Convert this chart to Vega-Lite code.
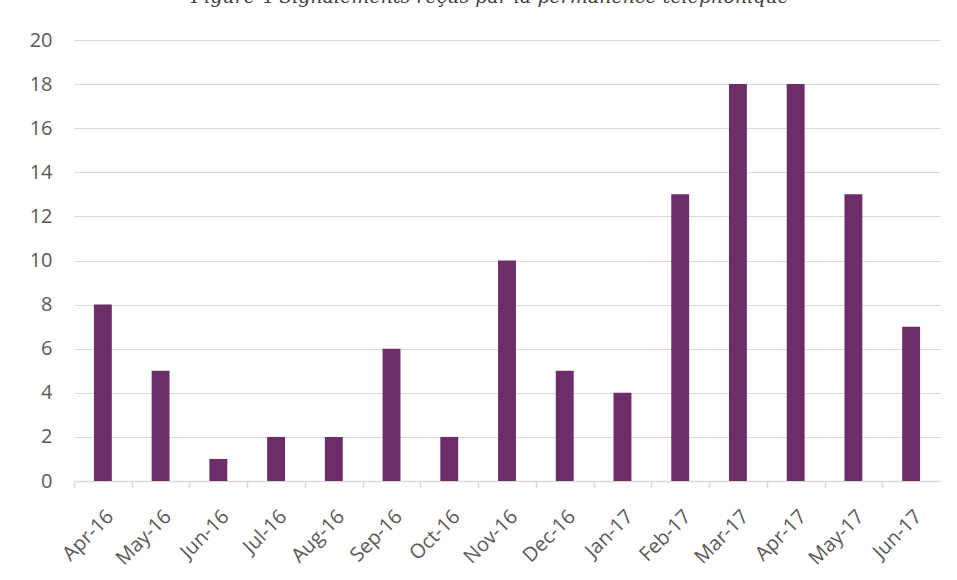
{
  "$schema": "https://vega.github.io/schema/vega-lite/v6.json",
  "autosize": {"type": "none"},
  "padding": {"left": 74, "top": 40, "right": 17, "bottom": 99},
  "width": 866,
  "height": 441,
  "background": "white",
  "title": {
    "text": "Figure 4 Signalements reçus par la permanence téléphonique",
    "font": "DejaVu Serif",
    "fontStyle": "italic",
    "fontWeight": "normal",
    "fontSize": 19,
    "color": "#404040",
    "anchor": "middle",
    "frame": "group",
    "baseline": "alphabetic",
    "offset": 0,
    "dy": -8,
    "dx": -17
  },
  "data": {
    "values": [
      {"month": "Apr-16", "count": 8},
      {"month": "May-16", "count": 5},
      {"month": "Jun-16", "count": 1},
      {"month": "Jul-16", "count": 2},
      {"month": "Aug-16", "count": 2},
      {"month": "Sep-16", "count": 6},
      {"month": "Oct-16", "count": 2},
      {"month": "Nov-16", "count": 10},
      {"month": "Dec-16", "count": 5},
      {"month": "Jan-17", "count": 4},
      {"month": "Feb-17", "count": 13},
      {"month": "Mar-17", "count": 18},
      {"month": "Apr-17", "count": 18},
      {"month": "May-17", "count": 13},
      {"month": "Jun-17", "count": 7}
    ]
  },
  "mark": {"type": "bar", "color": "#6d2d69"},
  "encoding": {
    "x": {
      "field": "month",
      "type": "nominal",
      "sort": null,
      "scale": {"paddingInner": 0.69, "paddingOuter": 0.345},
      "axis": {
        "title": null,
        "labelAngle": -45,
        "labelFont": "Open Sans",
        "labelFontSize": 20,
        "labelColor": "#595959",
        "labelPadding": 18,
        "tickOffset": -28.87,
        "labelOffset": 28.87,
        "domainColor": "#d9d9d9",
        "domainWidth": 1.5,
        "tickColor": "#d9d9d9",
        "tickWidth": 1.5,
        "tickSize": 7,
        "grid": false
      }
    },
    "y": {
      "field": "count",
      "type": "quantitative",
      "scale": {"domain": [0, 20]},
      "axis": {
        "title": null,
        "values": [0, 2, 4, 6, 8, 10, 12, 14, 16, 18, 20],
        "labelFont": "Open Sans",
        "labelFontSize": 20,
        "labelColor": "#595959",
        "labelPadding": 22,
        "domain": false,
        "ticks": false,
        "grid": true,
        "gridColor": "#d9d9d9",
        "gridWidth": 1
      }
    }
  },
  "config": {"view": {"stroke": null}}
}
